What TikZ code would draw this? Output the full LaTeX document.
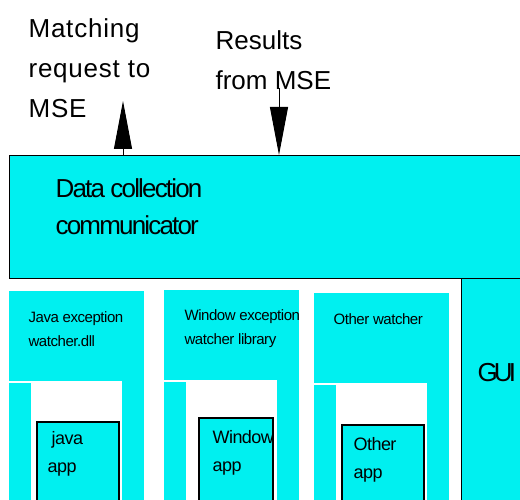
\documentclass[tikz,border=0pt]{standalone}
\usepackage{fontspec}
\setmainfont{Liberation Sans}
\usetikzlibrary{arrows.meta}
\definecolor{watchcyan}{RGB}{0,240,240}
\tikzset{every picture/.style={line width=1.2pt}}
\tikzset{
  cyanbox/.style={fill=watchcyan, draw=black, inner sep=0pt, anchor=north west},
  appbox/.style={cyanbox, line width=1.8pt},
  bigtext/.style={font=\fontsize{26}{40}\selectfont\addfontfeature{LetterSpace=#1},
    align=left, inner sep=0pt, anchor=north west},
  bigtext/.default=0,
  smalltext/.style={font=\fontsize{15}{24}\selectfont\addfontfeature{LetterSpace=-3},
    align=left, inner sep=0pt, anchor=north west},
  apptext/.style={font=\fontsize{18}{28}\selectfont\addfontfeature{LetterSpace=-3},
    align=left, inner sep=0pt, anchor=north west},
  msgarrow/.style={line width=1pt, -{Triangle[width=18pt,length=48pt]}}
}

\begin{document}
\begin{tikzpicture}[x=1pt, y=-1pt]
    \useasboundingbox (0,0) rectangle (520,500);

    % Communicator and GUI
    \node[cyanbox, minimum width=530pt, minimum height=123pt] (comm) at (9,155) {};
    \node[cyanbox, minimum width=70pt, minimum height=240pt] (gui) at (461,278) {};
    \node[bigtext=-7] (commlbl) at (55,178) {Data collection\\[-3pt]communicator};
    \node[bigtext=-15] (guilbl) at (477,363) {GUI};

    % Messages to and from MSE
    \node[bigtext=3] (reqlbl) at (28,18) {Matching\\request to\\MSE};
    \node[bigtext] (reslbl) at (215,30) {Results\\from MSE};
    \coordinate (reqtip) at (123,101);
    \coordinate (resfrom) at (279,88);
    \draw[msgarrow] (reqtip |- comm.north) -- (reqtip);
    \draw[msgarrow] (resfrom) -- (resfrom |- comm.north);

    % Watchers with their applications
    \foreach \wx/\wy/\ax/\ay/\aw/\wname in {9/291/36/421/82/java, 164/290/198/417/74/win, 314/293/341/424/82/other} {
        \fill[watchcyan] (\wx,\wy) rectangle ++(135,90);
        \fill[watchcyan] (\wx,\wy+92) rectangle (\wx+22,510);
        \fill[watchcyan] (\wx+113,\wy+89) rectangle (\wx+135,510);
        \node[appbox, minimum width=\aw pt, minimum height=100pt] (\wname app) at (\ax,\ay) {};
    }

    % Labels
    \node[smalltext] (javalbl) at (28,311) {Java exception\\watcher.dll};
    \node[smalltext] (winlbl) at (184,309) {Window exception\\watcher library};
    \node[smalltext] (otherlbl) at (333,313) {Other watcher};
    \node[apptext] (javaapplbl) at (47,431) {\hspace{4pt}java\\app};
    \node[apptext] (winapplbl) at (212,430) {Window\\app};
    \node[apptext] (otherapplbl) at (353,437) {Other\\app};
\end{tikzpicture}
\end{document}
